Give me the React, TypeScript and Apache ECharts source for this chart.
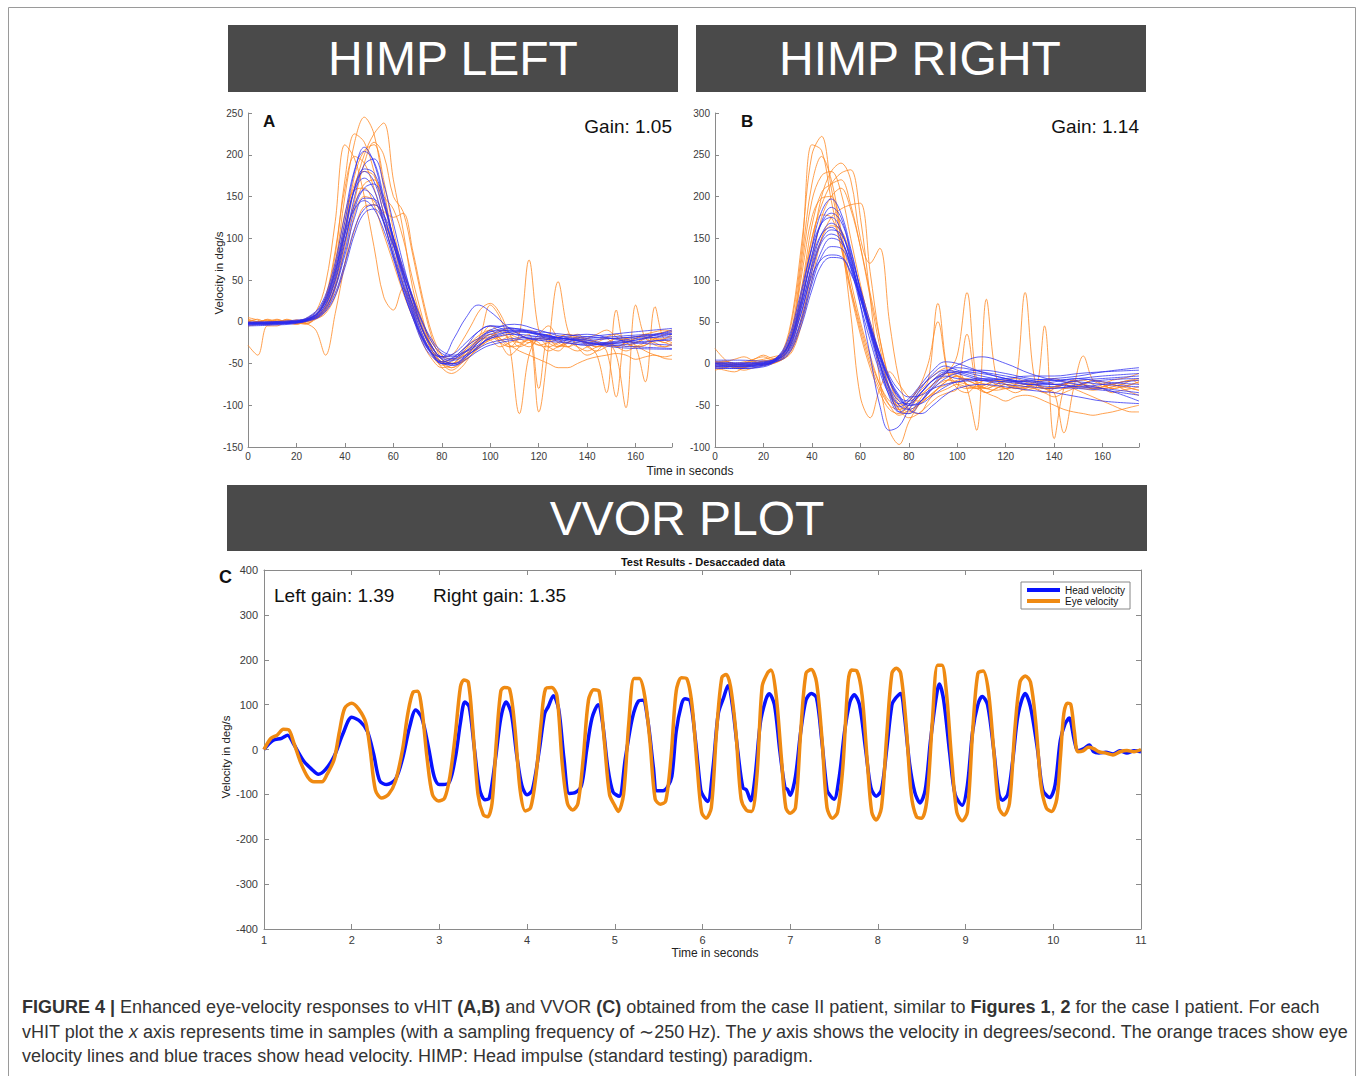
import React, { useEffect, useRef } from 'react';
import * as echarts from 'echarts';

// ---------- HIMP (vHIT) panels: sample positions ----------
const HIMP_X_HEAD = [0, 10, 20, 25, 30, 35, 40, 44, 48, 52, 56, 60, 64, 68, 72, 76, 80, 85, 90, 95, 100, 110, 120, 130, 140, 150, 160, 175];
const HIMP_X_EYE = [0, 4, 8, 12, 16, 20, 24, 28, 32, 36, 40, 44, 48, 52, 56, 60, 64, 68, 72, 76, 80, 84, 88, 92, 96, 100, 104, 108, 112, 116, 120, 124, 128, 132, 136, 140, 144, 148, 152, 156, 160, 164, 168, 172, 175];

// Panel A – head velocity traces (blue)
const A_HEAD = [
  [-3, -2, 0, 5, 18, 55, 120, 180, 209, 190, 145, 95, 50, 12, -20, -40, -50, -45, -30, -12, -5, -15, -22, -25, -28, -25, -22, -15],
  [-2, -2, 1, 6, 20, 60, 128, 182, 204, 192, 150, 100, 55, 15, -18, -38, -48, -52, -42, -30, -20, -12, -15, -20, -24, -28, -30, -32],
  [-1, 0, 2, 4, 12, 40, 95, 150, 188, 195, 165, 118, 70, 28, -8, -30, -45, -50, -40, -25, -12, -8, -14, -20, -22, -20, -18, -12],
  [0, -1, 0, 3, 14, 48, 110, 160, 180, 168, 130, 85, 45, 10, -22, -38, -42, -20, 5, 20, 12, -12, -22, -18, -15, -20, -25, -28],
  [-4, -3, -1, 4, 16, 52, 112, 158, 172, 158, 120, 78, 38, 5, -25, -42, -48, -42, -30, -20, -12, -10, -16, -22, -26, -24, -20, -18],
  [-2, -1, 1, 3, 10, 35, 85, 135, 160, 165, 140, 102, 62, 25, -10, -32, -42, -44, -35, -22, -10, -3, -10, -18, -22, -26, -22, -10],
  [-3, -2, -1, 2, 12, 42, 98, 140, 158, 148, 118, 80, 42, 8, -18, -35, -44, -46, -40, -32, -25, -20, -18, -20, -25, -30, -32, -33],
  [-1, 0, 0, 2, 9, 33, 80, 125, 148, 147, 125, 92, 55, 20, -10, -30, -42, -38, -25, -12, -5, -8, -15, -20, -18, -15, -12, -8],
  [-5, -4, -2, 3, 15, 50, 105, 135, 145, 135, 110, 75, 38, 5, -20, -38, -50, -52, -45, -35, -28, -22, -20, -24, -28, -26, -24, -22],
  [-2, -2, 0, 2, 8, 28, 70, 112, 135, 140, 128, 100, 65, 30, 0, -22, -35, -40, -35, -25, -15, -10, -12, -15, -18, -20, -18, -15],
  [-3, -3, -1, 1, 7, 25, 65, 105, 130, 135, 120, 92, 60, 28, -2, -25, -38, -42, -36, -28, -20, -15, -18, -22, -20, -18, -16, -14],
  [-2, -1, 0, 4, 14, 45, 105, 160, 183, 178, 145, 100, 58, 18, -15, -38, -50, -50, -42, -30, -18, -12, -14, -20, -25, -28, -26, -20],
];

// Panel A – eye velocity traces (orange)
const A_EYE = [
  [5, 2, -3, 0, -2, 1, 3, 8, 25, 70, 150, 215, 245, 225, 160, 95, 45, 10, -25, -45, -55, -52, -40, -25, -15, -10, -20, -30, -15, 74, -10, -25, -30, -20, -15, -25, -30, -28, -20, -25, -30, -28, -22, -20, -18],
  [-28, -40, -5, -5, 0, -3, 2, 6, 18, 50, 105, 160, 200, 225, 238, 170, 110, 40, 0, -30, -50, -58, -50, -35, -20, -10, -25, -40, -30, -20, -108, -30, 48, -10, -30, -40, -35, -25, -30, -35, -30, -25, -20, -22, -25],
  [3, 0, -2, 2, 0, -1, 4, 12, 45, 120, 212, 195, 150, 90, 30, 14, 40, 20, -10, -35, -48, -50, -42, -30, -18, -5, -12, -20, -25, -22, -28, -30, -25, -18, -20, -26, -30, -25, -20, -22, -25, -20, -15, -12, -10],
  [-2, 0, 2, -3, 1, 0, -2, 5, 15, 40, 90, 145, 190, 215, 200, 150, 132, 80, 25, -20, -45, -55, -48, -35, -15, 20, 5, -30, -110, -40, -20, -30, -35, -25, -20, -30, -35, -30, -25, -20, -28, -35, -40, -42, -40],
  [0, -2, -4, -1, 2, -2, 0, 8, 30, 85, 160, 198, 190, 160, 120, 80, 45, 15, -15, -40, -52, -48, -38, -28, -20, -15, -22, -18, -25, -30, -20, -15, -25, -30, -22, -28, -40, -85, 14, -30, -25, -20, -28, -30, -25],
  [2, 0, -3, 0, -2, 1, 3, 6, 18, 55, 120, 165, 180, 175, 140, 100, 60, 28, -5, -30, -45, -50, -45, -32, -22, -18, -25, -30, -28, -20, -25, -35, -30, -25, -30, -35, -30, -25, -40, -103, 20, -20, -25, -30, -28],
  [-5, -3, 0, 2, -1, -3, 0, 4, 12, 40, 95, 140, 165, 170, 150, 135, 100, 50, 5, -35, -55, -62, -55, -40, -25, -15, -20, -28, -35, -40, -45, -50, -55, -55, -50, -45, -42, -40, -38, -40, -45, -42, -40, -44, -45],
  [0, 3, -2, 0, 2, -1, -3, 5, 20, 65, 130, 158, 160, 140, 105, 70, 35, 5, -20, -38, -48, -45, -35, -25, -20, -22, -30, -25, -20, -15, -80, -20, -30, -25, -18, -20, -25, -35, -90, -20, -30, -72, 18, -20, -15],
  [-3, 0, 2, -1, 0, 2, -2, -10, -40, 10, 70, 130, 150, 145, 120, 90, 60, 30, 0, -25, -40, -45, -42, -35, -28, -22, -18, -15, -12, -10, -15, -20, -18, -15, -20, -25, -22, -18, -15, -20, -18, -15, -12, -10, -12],
  [1, -2, 0, 3, -1, -2, 1, 6, 28, 80, 170, 225, 215, 180, 130, 95, 55, 20, -10, -35, -50, -55, -50, -40, -30, -20, -10, -15, -20, -25, -15, -5, -20, -30, -35, -30, -25, -20, -30, -25, -20, -15, -20, -25, -20],
  [-2, 0, 1, -1, 3, 0, -2, 3, 10, 30, 70, 110, 138, 140, 132, 125, 130, 85, 30, -15, -40, -50, -48, -40, -28, -18, -12, -8, -15, -22, -28, -25, -20, -15, -18, -22, -25, -28, -30, -25, -20, -18, -22, -25, -28],
  [0, -1, 3, 0, -2, 2, 0, 5, 14, 45, 110, 175, 205, 212, 170, 110, 62, 25, -8, -30, -42, -40, -25, -5, 15, 22, 10, -15, -30, -25, -20, -22, -28, -30, -25, -20, -15, -10, -18, -25, -30, -28, -20, -15, -12],
];

// Panel B – head velocity traces (blue)
const B_HEAD = [
  [-2, -3, -1, 5, 25, 75, 140, 182, 197, 180, 138, 88, 40, 0, -40, -58, -50, -30, -12, -3, -8, -15, -20, -22, -25, -20, -18, -15],
  [-5, -6, -3, 4, 20, 65, 128, 170, 187, 175, 130, 70, 10, -50, -80, -75, -55, -35, -20, -15, -18, -20, -22, -25, -25, -28, -30, -35],
  [0, -1, 1, 6, 28, 80, 138, 168, 175, 160, 122, 78, 35, -5, -35, -48, -42, -25, -8, 2, 0, -10, -18, -22, -20, -18, -15, -12],
  [-3, -3, 0, 4, 18, 60, 118, 155, 168, 158, 125, 82, 42, 5, -28, -45, -48, -35, -20, -12, -10, -12, -18, -25, -28, -30, -32, -38],
  [2, 1, 2, 6, 22, 70, 125, 155, 163, 150, 115, 70, 28, -10, -38, -52, -45, -28, -15, -8, -10, -18, -22, -20, -18, -15, -10, -5],
  [-1, -2, -1, 3, 15, 55, 110, 145, 155, 148, 118, 78, 38, 0, -30, -50, -55, -45, -30, -18, -12, -8, -12, -18, -20, -22, -25, -28],
  [4, 4, 3, 5, 14, 48, 100, 135, 150, 145, 120, 85, 45, 8, -22, -42, -50, -45, -28, -12, -2, 8, 0, -12, -20, -25, -30, -45],
  [-6, -6, -4, 2, 12, 45, 95, 128, 140, 138, 115, 82, 45, 10, -18, -38, -50, -48, -38, -28, -22, -18, -20, -25, -22, -18, -22, -25],
  [-3, -4, -2, 3, 16, 55, 105, 125, 130, 128, 110, 80, 45, 12, -15, -32, -40, -38, -30, -25, -22, -20, -18, -15, -15, -12, -10, -8],
  [0, -1, 0, 2, 10, 40, 88, 118, 127, 126, 108, 78, 42, 8, -20, -40, -55, -60, -50, -38, -30, -25, -28, -32, -35, -40, -45, -48],
  [-4, -4, -2, 4, 20, 68, 130, 168, 180, 170, 135, 88, 40, 0, -32, -58, -60, -45, -25, -10, -5, -10, -15, -20, -25, -28, -25, -20],
  [1, 0, 1, 5, 20, 62, 115, 148, 160, 155, 128, 90, 50, 12, -20, -40, -45, -35, -20, -10, -12, -20, -25, -28, -30, -25, -20, -18],
];

// Panel B – eye velocity traces (orange)
const B_EYE = [
  [-2, 0, -5, -3, 0, 2, 5, 15, 60, 150, 250, 272, 210, 150, 90, 40, 0, -30, -50, -55, -45, -30, -20, -10, -5, -15, -25, -30, -28, -20, -25, -30, -28, -22, -20, -25, -30, -28, -25, -20, -22, -25, -28, -30, -32],
  [18, 5, -3, -5, 0, -2, 3, 12, 55, 140, 262, 255, 195, 140, 85, 35, -5, -35, -55, -60, -50, -35, -20, 72, -10, -30, -35, -25, -20, -25, -30, -35, -30, -25, -28, -30, -25, -20, -25, -30, -28, -25, -22, -20, -25],
  [0, 2, 5, 8, 3, 0, 2, 10, 45, 130, 215, 248, 220, 160, 100, 50, 10, -25, -50, -62, -55, -40, -25, -15, -10, 10, 85, -20, -35, -30, -25, -28, -30, -25, -30, -35, -30, -28, -25, -20, -25, -30, -28, -25, -22],
  [-5, -8, -10, -5, 0, 3, 5, 8, 25, 75, 140, 200, 230, 240, 220, 150, 120, 138, 50, -20, -55, -60, -45, -30, -20, -15, -25, -30, -35, -30, -25, -28, -32, -30, -35, -40, -35, -30, -25, -28, -30, -35, -32, -30, -28],
  [3, 0, -2, 0, 5, 8, 4, 10, 30, 80, 150, 190, 215, 228, 232, 175, 80, -20, -80, -97, -70, -50, -35, -25, -20, -22, -25, -28, -30, -25, -20, -22, -25, -28, -30, -28, -25, -30, -35, -40, -45, -50, -55, -58, -58],
  [-3, -5, -2, 0, 3, 5, 8, 12, 35, 95, 165, 205, 215, 220, 190, 140, 80, 20, -30, -55, -60, -45, -30, -20, -15, -10, -30, -80, 77, -15, -30, -25, -20, -25, -30, -28, -25, -20, -25, -30, -28, -25, -22, -20, -20],
  [0, 2, 0, -3, -2, 0, 2, 6, 20, 60, 120, 175, 200, 210, 185, 140, 85, 30, -20, -50, -58, -50, -40, -30, -25, -20, -18, -22, -25, -28, -30, -25, 85, -20, -30, -28, -25, -22, -20, -25, -30, -28, -25, -20, -18],
  [-8, -5, -2, 0, 2, -1, 0, 8, 40, 110, 175, 198, 200, 150, 60, -40, -65, -30, -10, -25, -40, -45, -40, -30, -20, -15, -20, -25, -30, -32, -30, -28, -25, -30, -35, -30, -25, -28, -30, -32, -30, -28, -25, -30, -32],
  [2, 0, -3, -5, -2, 0, 3, 5, 15, 50, 100, 150, 175, 185, 190, 192, 110, 30, -20, -45, -55, -50, -40, -35, -30, -25, -28, -30, -25, -20, -22, -25, -28, -30, 45, -90, -30, -20, -25, -30, -28, -25, -30, -35, -38],
  [0, -2, -5, -8, -5, -2, 0, 6, 30, 90, 150, 178, 175, 140, 90, 45, 5, -25, -45, -50, -45, -30, 0, 50, -10, -25, -30, -28, -25, -20, -25, -30, -28, -25, -30, -35, -83, -30, 9, -20, -25, -30, -28, -25, -22],
  [1, 3, 0, -2, 0, 3, 2, 5, 18, 55, 110, 150, 165, 160, 130, 90, 50, 10, -30, -55, -65, -60, -50, -40, -35, -30, 35, -25, -35, -40, -45, -40, -38, -40, -45, -50, -55, -58, -60, -62, -60, -58, -55, -52, -50],
  [-4, -2, 0, 2, 5, 10, 6, 10, 40, 120, 195, 225, 230, 205, 150, 95, 45, 0, -35, -55, -50, -40, -30, -20, -12, -15, -20, -25, -30, -25, -20, -18, -22, -25, -20, -18, -22, -25, -28, -30, -25, -20, -18, -15, -12],
];

// ---------- VVOR panel: [time (s), velocity (deg/s)] ----------
const VVOR_HEAD = [
  [1.0, 0], [1.1, 20], [1.2, 25], [1.27, 32], [1.33, 15], [1.45, -25], [1.55, -45], [1.62, -55], [1.7, -45], [1.8, -15], [1.9, 35], [2.0, 72], [2.1, 62], [2.18, 40], [2.25, -10], [2.32, -70], [2.4, -78], [2.5, -66], [2.58, -20], [2.66, 50], [2.73, 88], [2.8, 70], [2.88, 0], [2.94, -60], [3.0, -78], [3.1, -76], [3.18, -20], [3.24, 60], [3.29, 106], [3.34, 95], [3.4, 0], [3.46, -90], [3.52, -112], [3.57, -108], [3.64, -20], [3.7, 70], [3.76, 106], [3.82, 80], [3.88, -10], [3.94, -80], [4.0, -101], [4.06, -90], [4.14, 0], [4.2, 80], [4.24, 95], [4.3, 120], [4.36, 90], [4.42, -20], [4.48, -98], [4.55, -96], [4.62, -80], [4.68, 0], [4.74, 70], [4.81, 100], [4.86, 60], [4.92, -40], [4.98, -95], [5.05, -104], [5.12, -20], [5.2, 70], [5.27, 108], [5.32, 110], [5.38, 60], [5.44, -40], [5.48, -92], [5.55, -92], [5.6, -84], [5.65, -60], [5.7, 40], [5.76, 100], [5.8, 113], [5.86, 108], [5.92, 20], [5.98, -90], [6.01, -104], [6.06, -116], [6.12, -40], [6.18, 80], [6.24, 115], [6.29, 142], [6.34, 100], [6.4, 0], [6.46, -85], [6.5, -90], [6.55, -114], [6.6, -60], [6.66, 60], [6.72, 110], [6.76, 124], [6.82, 100], [6.88, 0], [6.94, -85], [6.97, -89], [7.0, -102], [7.06, -60], [7.12, 40], [7.18, 110], [7.24, 125], [7.3, 115], [7.36, 20], [7.42, -90], [7.45, -101], [7.5, -111], [7.56, -60], [7.62, 40], [7.68, 105], [7.73, 122], [7.79, 100], [7.86, 0], [7.92, -85], [7.98, -104], [8.04, -90], [8.1, 0], [8.16, 100], [8.2, 114], [8.26, 125], [8.3, 80], [8.36, -30], [8.42, -95], [8.48, -119], [8.54, -90], [8.6, 20], [8.66, 110], [8.7, 146], [8.75, 110], [8.82, -10], [8.88, -100], [8.96, -124], [9.02, -80], [9.08, 40], [9.14, 100], [9.19, 118], [9.25, 100], [9.32, 0], [9.38, -100], [9.42, -113], [9.48, -100], [9.54, -20], [9.6, 80], [9.68, 125], [9.74, 95], [9.82, 0], [9.88, -90], [9.96, -107], [10.02, -80], [10.08, 20], [10.13, 55], [10.18, 70], [10.24, 20], [10.28, -3], [10.35, 2], [10.41, 10], [10.46, -5], [10.52, -8], [10.6, -6], [10.68, -10], [10.76, -3], [10.84, -8], [10.92, -3], [11.0, -5],
];
const VVOR_EYE = [
  [1.0, 0], [1.08, 25], [1.15, 32], [1.22, 45], [1.28, 44], [1.34, 15], [1.42, -30], [1.5, -62], [1.57, -72], [1.66, -72], [1.72, -55], [1.8, -22], [1.86, 40], [1.92, 92], [2.0, 103], [2.08, 90], [2.16, 60], [2.21, 0], [2.27, -90], [2.34, -108], [2.42, -100], [2.5, -70], [2.58, 0], [2.64, 80], [2.7, 128], [2.75, 130], [2.8, 90], [2.86, -20], [2.92, -100], [2.99, -115], [3.06, -108], [3.12, -60], [3.18, 30], [3.24, 140], [3.28, 155], [3.33, 150], [3.38, 50], [3.44, -100], [3.5, -145], [3.55, -150], [3.6, -120], [3.65, 20], [3.7, 130], [3.74, 138], [3.8, 135], [3.86, 50], [3.92, -90], [3.98, -137], [4.04, -130], [4.1, -60], [4.16, 60], [4.21, 135], [4.28, 138], [4.34, 120], [4.4, -30], [4.46, -120], [4.52, -135], [4.58, -120], [4.64, -20], [4.7, 110], [4.76, 133], [4.82, 130], [4.88, 20], [4.94, -100], [5.0, -125], [5.04, -138], [5.1, -100], [5.16, 60], [5.22, 158], [5.28, 158], [5.34, 120], [5.4, 20], [5.46, -110], [5.52, -122], [5.58, -115], [5.64, -20], [5.7, 130], [5.76, 160], [5.82, 158], [5.88, 100], [5.94, -40], [5.99, -140], [6.04, -153], [6.1, -130], [6.16, 40], [6.22, 160], [6.27, 167], [6.32, 140], [6.38, 40], [6.44, -110], [6.5, -135], [6.56, -138], [6.62, -60], [6.68, 140], [6.74, 170], [6.78, 177], [6.84, 120], [6.9, -20], [6.95, -130], [7.0, -142], [7.06, -130], [7.12, 40], [7.18, 170], [7.24, 178], [7.3, 150], [7.36, 30], [7.42, -130], [7.48, -153], [7.54, -140], [7.6, -40], [7.66, 150], [7.7, 177], [7.76, 175], [7.82, 120], [7.88, -30], [7.93, -140], [7.98, -157], [8.04, -130], [8.1, 30], [8.16, 170], [8.21, 181], [8.26, 170], [8.32, 60], [8.38, -100], [8.44, -150], [8.5, -153], [8.56, -110], [8.62, 60], [8.68, 188], [8.73, 188], [8.78, 130], [8.84, -20], [8.9, -140], [8.96, -159], [9.02, -140], [9.08, 40], [9.14, 170], [9.2, 175], [9.26, 130], [9.32, 0], [9.38, -130], [9.44, -146], [9.5, -120], [9.56, 40], [9.62, 150], [9.68, 164], [9.74, 150], [9.8, 60], [9.86, -80], [9.92, -130], [9.98, -138], [10.04, -110], [10.08, -20], [10.12, 80], [10.16, 103], [10.2, 100], [10.24, 40], [10.28, -5], [10.34, -3], [10.4, 5], [10.46, 2], [10.52, -5], [10.6, -8], [10.68, -12], [10.76, -5], [10.84, -2], [10.92, -5], [11.0, 0],
];

// ---------- texts ----------
const PANEL_TITLES = ['HIMP LEFT', 'HIMP RIGHT', 'VVOR PLOT'];
const GAIN_A = 'Gain: 1.05';
const GAIN_B = 'Gain: 1.14';
const GAIN_C_LEFT = 'Left gain: 1.39';
const GAIN_C_RIGHT = 'Right gain: 1.35';
const VVOR_TITLE = 'Test Results - Desaccaded data';
const Y_NAME = 'Velocity in deg/s';
const X_NAME = 'Time in seconds';
const LEGEND_NAMES = ['Head velocity', 'Eye velocity'];
const CAPTION_LINES = [
  '{b|FIGURE 4 |} Enhanced eye-velocity responses to vHIT {b|(A,B)} and VVOR {b|(C)} obtained from the case II patient, similar to {b|Figures 1}, {b|2} for the case I patient. For each',
  'vHIT plot the {i|x} axis represents time in samples (with a sampling frequency of \u223c250\u2009Hz). The {i|y} axis shows the velocity in degrees/second. The orange traces show eye',
  'velocity lines and blue traces show head velocity. HIMP: Head impulse (standard testing) paradigm.',
];

const FONT = '"Liberation Sans", Arial, Helvetica, sans-serif';
const HIMP_BLUE = '#2b2bf2';
const HIMP_ORANGE = '#ff8a24';
const VVOR_BLUE = '#0712ff';
const VVOR_ORANGE = '#ef8a12';
const AXIS_COLOR = '#8a8a8a';
const LABEL_COLOR = '#3a3a3a';
const CAPTION_SIZE = 18;

function zip(xs: number[], ys: number[]) {
  return xs.map((x, i) => [x, ys[i]]);
}

function himpSeries(grid: number, heads: number[][], eyes: number[][], tag: string) {
  const out: any[] = [];
  eyes.forEach((ys, k) => {
    out.push({
      type: 'line', name: `${tag}-eye-${k}`, xAxisIndex: grid, yAxisIndex: grid,
      data: zip(HIMP_X_EYE, ys), smooth: 0.35, showSymbol: false, symbol: 'none', silent: true,
      lineStyle: { width: 1, color: HIMP_ORANGE, opacity: 0.8 },
    });
  });
  heads.forEach((ys, k) => {
    out.push({
      type: 'line', name: `${tag}-head-${k}`, xAxisIndex: grid, yAxisIndex: grid,
      data: zip(HIMP_X_HEAD, ys), smooth: 0.4, showSymbol: false, symbol: 'none', silent: true,
      lineStyle: { width: 1, color: HIMP_BLUE, opacity: 0.75 },
    });
  });
  return out;
}

function himpXAxis(grid: number) {
  return {
    type: 'value', gridIndex: grid, min: 0, max: 175, interval: 20,
    axisLine: { show: true, onZero: false, lineStyle: { color: AXIS_COLOR, width: 1 } },
    axisTick: { show: true, inside: true, length: 4, lineStyle: { color: AXIS_COLOR } },
    axisLabel: { fontSize: 10, color: LABEL_COLOR, fontFamily: FONT, margin: 4,
      formatter: (v: number) => (v % 20 === 0 ? String(v) : '') },
    splitLine: { show: false },
  };
}

function himpYAxis(grid: number, min: number, max: number) {
  return {
    type: 'value', gridIndex: grid, min, max, interval: 50,
    axisLine: { show: true, onZero: false, lineStyle: { color: AXIS_COLOR, width: 1 } },
    axisTick: { show: true, inside: true, length: 4, lineStyle: { color: AXIS_COLOR } },
    axisLabel: { fontSize: 10, color: LABEL_COLOR, fontFamily: FONT, margin: 5 },
    splitLine: { show: false },
  };
}

function text(x: number, y: number, t: string, size: number, opts: any = {}) {
  return {
    type: 'text', x, y, rotation: opts.rotation || 0, silent: true,
    style: {
      text: t, fill: opts.fill || '#111', fontSize: size, fontFamily: FONT,
      fontWeight: opts.weight || 'normal', textAlign: opts.align || 'left', textVerticalAlign: 'middle',
      rich: opts.rich,
    },
  };
}

function buildOption() {
  const vvorAxisBase = {
    axisLine: { show: true, onZero: false, lineStyle: { color: AXIS_COLOR, width: 1 } },
    axisTick: { show: true, inside: true, length: 5, lineStyle: { color: AXIS_COLOR } },
    splitLine: { show: false },
  };
  const captionRich = {
    b: { fontWeight: 'bold', fontSize: CAPTION_SIZE, fontFamily: FONT, color: '#1e1e1e' },
    i: { fontStyle: 'italic', fontSize: CAPTION_SIZE, fontFamily: FONT, color: '#333' },
  };
  const graphics: any[] = [
    { type: 'rect', silent: true, shape: { x: 8.5, y: 7.5, width: 1347, height: 1080 }, style: { fill: 'none', stroke: '#9a9a9a', lineWidth: 1 } },
    { type: 'rect', silent: true, shape: { x: 228, y: 25, width: 450, height: 67 }, style: { fill: '#4a4a4a' } },
    { type: 'rect', silent: true, shape: { x: 696, y: 25, width: 450, height: 67 }, style: { fill: '#4a4a4a' } },
    { type: 'rect', silent: true, shape: { x: 227, y: 485, width: 920, height: 66 }, style: { fill: '#4a4a4a' } },
    text(453, 58, PANEL_TITLES[0], 48, { fill: '#ffffff', align: 'center' }),
    text(920, 58, PANEL_TITLES[1], 48, { fill: '#ffffff', align: 'center' }),
    text(687, 518, PANEL_TITLES[2], 48, { fill: '#ffffff', align: 'center' }),
    text(263, 121, 'A', 17, { weight: 'bold' }),
    text(741, 121, 'B', 17, { weight: 'bold' }),
    text(219, 577, 'C', 18, { weight: 'bold' }),
    text(672, 126, GAIN_A, 19, { align: 'right' }),
    text(1139, 126, GAIN_B, 19, { align: 'right' }),
    text(274, 595, GAIN_C_LEFT, 19),
    text(433, 595, GAIN_C_RIGHT, 19),
    text(690, 471, X_NAME, 12, { align: 'center', fill: '#222' }),
    text(715, 953, X_NAME, 12, { align: 'center', fill: '#222' }),
    text(219, 273, Y_NAME, 11.5, { align: 'center', fill: '#222', rotation: Math.PI / 2 }),
    text(226, 757, Y_NAME, 11.5, { align: 'center', fill: '#222', rotation: Math.PI / 2 }),
    text(703, 562, VVOR_TITLE, 11, { align: 'center', weight: 'bold' }),
  ];
  const captionY = [1007, 1032, 1056];
  CAPTION_LINES.forEach((line, i) => {
    graphics.push(text(22, captionY[i], line, CAPTION_SIZE, { fill: '#333', rich: captionRich }));
  });

  return {
    animation: false,
    backgroundColor: '#ffffff',
    textStyle: { fontFamily: FONT },
    legend: {
      data: LEGEND_NAMES, orient: 'vertical', left: 1021, top: 582,
      itemWidth: 33, itemHeight: 4, itemGap: 1, icon: 'rect', selectedMode: false,
      borderColor: '#888', borderWidth: 1, padding: [3, 5, 3, 6], backgroundColor: '#fff',
      textStyle: { fontSize: 10, color: '#111', fontFamily: FONT },
    },
    grid: [
      { left: 248, top: 113, width: 424, height: 334 },
      { left: 715, top: 113, width: 424, height: 334 },
      { left: 264, top: 570, width: 877, height: 359 },
    ],
    xAxis: [
      himpXAxis(0),
      himpXAxis(1),
      { ...vvorAxisBase, type: 'value', gridIndex: 2, min: 1, max: 11, interval: 1, position: 'bottom',
        axisLabel: { fontSize: 11, color: LABEL_COLOR, fontFamily: FONT, margin: 5 } },
      { ...vvorAxisBase, type: 'value', gridIndex: 2, min: 1, max: 11, interval: 1, position: 'top',
        axisLabel: { show: false } },
    ],
    yAxis: [
      himpYAxis(0, -150, 250),
      himpYAxis(1, -100, 300),
      { ...vvorAxisBase, type: 'value', gridIndex: 2, min: -400, max: 400, interval: 100, position: 'left',
        axisLabel: { fontSize: 11, color: LABEL_COLOR, fontFamily: FONT, margin: 6 } },
      { ...vvorAxisBase, type: 'value', gridIndex: 2, min: -400, max: 400, interval: 100, position: 'right',
        axisLabel: { show: false } },
    ],
    series: [
      ...himpSeries(0, A_HEAD, A_EYE, 'A'),
      ...himpSeries(1, B_HEAD, B_EYE, 'B'),
      {
        type: 'line', name: LEGEND_NAMES[0], xAxisIndex: 2, yAxisIndex: 2, data: VVOR_HEAD,
        smooth: 0.3, showSymbol: false, symbol: 'none', silent: true, color: VVOR_BLUE,
        lineStyle: { width: 3.5, color: VVOR_BLUE },
      },
      {
        type: 'line', name: LEGEND_NAMES[1], xAxisIndex: 2, yAxisIndex: 2, data: VVOR_EYE,
        smooth: 0.3, showSymbol: false, symbol: 'none', silent: true, color: VVOR_ORANGE,
        lineStyle: { width: 3.5, color: VVOR_ORANGE },
      },
    ],
    graphic: graphics,
  };
}

export default function App() {
  const ref = useRef<HTMLDivElement>(null);
  useEffect(() => {
    if (!ref.current) return;
    const chart = echarts.init(ref.current, null, { renderer: 'svg' });
    chart.setOption(buildOption() as any);
    return () => chart.dispose();
  }, []);
  return (
    <div
      ref={ref}
      style={{ position: 'absolute', left: 0, top: 0, width: 1358, height: 1076, background: '#fff' }}
    />
  );
}
